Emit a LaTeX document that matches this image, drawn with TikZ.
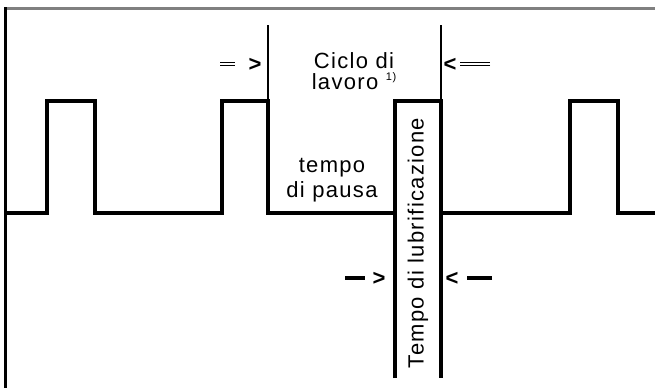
\documentclass[tikz,border=0pt]{standalone}
\usepackage{fontspec}
\setmainfont[LetterSpace=6]{Liberation Sans}

\begin{document}
\begin{tikzpicture}[x=1pt, y=-1pt,
  sig/.style={line width=4.6pt, line join=miter},
  guide/.style={line width=1.4pt},
  lbl/.style={font=\fontsize{22}{21}\selectfont, inner sep=0pt, align=center},
  glyph/.style={font=\fontsize{22}{22}\selectfont\bfseries, inner sep=0pt},
  dbl/.style={double, double distance=2.4pt, line width=0.9pt},
  bar/.style={line width=4.6pt}]
\useasboundingbox (0,0) rectangle (655,388);
% frame
\draw[gray, line width=3pt] (5,8) -- (655,8);
\draw[line width=3pt] (5.5,7) -- (5.5,388);
% signal
\draw[sig] (6,213) -- (47,213) -- (47,101) -- (95,101) -- (95,213) -- (222,213)
  -- (222,101) -- (268,101) -- (268,213) -- (395,213);
\draw[sig] (395,378) -- (395,101) -- (441,101) -- (441,378);
\draw[sig] (441,213) -- (570,213) -- (570,101) -- (618,101) -- (618,213) -- (655,213);
% cycle limits
\draw[guide] (268,25) -- (268,101);
\draw[guide] (441,25) -- (441,101);
% labels
\node[lbl] (ciclo) at (354,71) {Ciclo di\\lavoro\ \raisebox{9pt}{\fontsize{11}{11}\selectfont 1)}};
\node[lbl, font=\fontsize{22}{25}\selectfont] (pausa) at (332,180) {tempo\\di pausa};
\node[lbl, rotate=90] (lub) at (418,243) {Tempo di lubrificazione};
% markers
\node[glyph] (cl) at (255,65) {>};
\node[glyph] (cr) at (450,65) {<};
\coordinate (cl0) at (220,64);
\coordinate (cr0) at (490,64);
\draw[dbl, shorten >=20pt] (cl0) -- (cl.center |- cl0);
\draw[dbl, shorten >=10pt] (cr0) -- (cr.center |- cr0);
\node[glyph] (ll) at (379,279) {>};
\node[glyph] (lr) at (452,279) {<};
\coordinate (ll0) at (345,278);
\coordinate (lr0) at (492,278);
\draw[bar, shorten >=14pt] (ll0) -- (ll.center |- ll0);
\draw[bar, shorten >=15pt] (lr0) -- (lr.center |- lr0);
\end{tikzpicture}
\end{document}
